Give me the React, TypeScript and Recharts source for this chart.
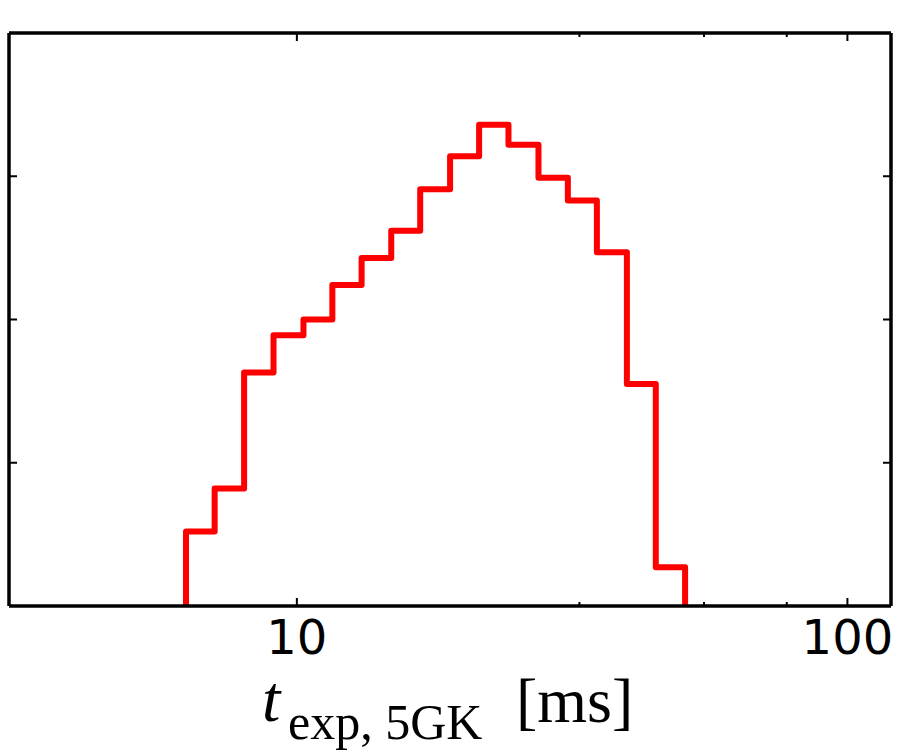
import { Line, LineChart, XAxis, YAxis } from 'recharts';

// histogram bin edges (ms) and heights
const binEdges = [
  6.29, 7.09, 8.02, 9.07, 10.28, 11.6, 13.11, 14.84, 16.75, 18.98, 21.43,
  24.23, 27.47, 31.06, 35.07, 39.76, 44.87, 50.72,
];
const binHeights = [
  0.52, 0.82, 1.63, 1.89, 2.0, 2.24, 2.43, 2.62, 2.91, 3.14, 3.36, 3.22, 2.99,
  2.83, 2.47, 1.55, 0.27,
];

const xMajorTicks = [10, 100];
const xMinorTicks = [32.6, 54.9, 77.6];
const yTicks = [1, 2, 3];

// step outline: rise at first edge, one point per bin, drop at last edge
const chartData = [
  { t: binEdges[0], n: 0 },
  ...binHeights.map((h, i) => ({ t: binEdges[i], n: h })),
  { t: binEdges[binEdges.length - 1], n: 0 },
];

const xTicks = [...xMajorTicks, ...xMinorTicks];

const XTick = ({ x, y, payload, top }: any) => {
  const major = xMajorTicks.includes(payload.value);
  const len = major ? 8 : 4;
  return (
    <g>
      <line
        x1={x}
        x2={x}
        y1={y}
        y2={top ? y + len : y - len}
        stroke="#000"
        strokeWidth={2}
      />
      {major && !top && (
        <text
          x={x}
          y={y + 48}
          textAnchor="middle"
          fontFamily="DejaVu Sans"
          fontSize={48}
          fill="#000"
        >
          {payload.value}
        </text>
      )}
    </g>
  );
};

const YTick = ({ x, y, right }: any) => (
  <line
    x1={x}
    x2={right ? x - 8 : x + 8}
    y1={y}
    y2={y}
    stroke="#000"
    strokeWidth={2}
  />
);

const AxisTitle = ({ viewBox }: any) => {
  const x0 = viewBox.x;
  const y0 = viewBox.y;
  return (
    <g fontFamily="Liberation Serif" fill="#000">
      <text x={x0 + 253} y={y0 + 115} fontSize={66} fontStyle="italic">
        t
      </text>
      <text x={x0 + 279} y={y0 + 133} fontSize={50}>
        exp, 5GK
      </text>
      <text x={x0 + 507} y={y0 + 116} fontSize={64}>
        [ms]
      </text>
    </g>
  );
};

const frame = { stroke: '#000', strokeWidth: 3.5 };

export default function App() {
  return (
    <div style={{ position: 'absolute', left: 0, top: 0, background: '#fff' }}>
      <LineChart
        width={900}
        height={750}
        data={chartData}
        margin={{ top: 32, right: 8, bottom: 143, left: 8 }}
      >
        <XAxis
          xAxisId="bottom"
          dataKey="t"
          type="number"
          scale="log"
          domain={[3, 120]}
          allowDataOverflow
          ticks={xTicks}
          interval={0}
          height={1}
          tickSize={0}
          tickMargin={0}
          tickLine={false}
          axisLine={frame}
          tick={<XTick />}
          label={<AxisTitle />}
        />
        <XAxis
          xAxisId="top"
          orientation="top"
          dataKey="t"
          type="number"
          scale="log"
          domain={[3, 120]}
          allowDataOverflow
          ticks={xTicks}
          interval={0}
          height={1}
          tickSize={0}
          tickMargin={0}
          tickLine={false}
          axisLine={frame}
          tick={<XTick top />}
        />
        <YAxis
          yAxisId="left"
          type="number"
          domain={[0, 4]}
          allowDataOverflow
          ticks={yTicks}
          interval={0}
          width={1}
          tickSize={0}
          tickMargin={0}
          tickLine={false}
          axisLine={frame}
          tick={<YTick />}
        />
        <YAxis
          yAxisId="right"
          orientation="right"
          type="number"
          domain={[0, 4]}
          allowDataOverflow
          ticks={yTicks}
          interval={0}
          width={1}
          tickSize={0}
          tickMargin={0}
          tickLine={false}
          axisLine={frame}
          tick={<YTick right />}
        />
        <Line
          xAxisId="bottom"
          yAxisId="left"
          type="stepAfter"
          dataKey="n"
          stroke="#ff0000"
          strokeWidth={6}
          strokeLinejoin="round"
          dot={false}
          activeDot={false}
          isAnimationActive={false}
        />
      </LineChart>
    </div>
  );
}
